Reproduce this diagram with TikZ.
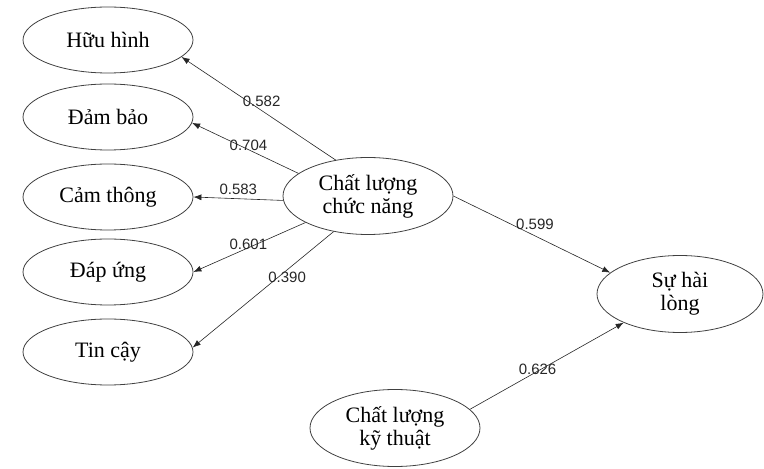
\documentclass[tikz,border=0pt]{standalone}
\usepackage{fontspec}
\setmainfont{Liberation Serif}
\newfontfamily\lblfont{Liberation Sans}
\usepackage{tikz}
\usetikzlibrary{arrows.meta}
\usetikzlibrary{shapes.geometric}

\begin{document}
\begin{tikzpicture}[x=1pt, y=1pt,
        factor/.style={draw=black!75, line width=0.8pt, ellipse, inner sep=0pt,
            minimum width=170pt, minimum height=66pt, align=center,
            font=\fontsize{22}{23}\selectfont},
        big/.style={minimum height=77pt},
        path/.style={-{Latex[length=8pt, width=6pt]}, line width=0.6pt, black!85},
        coef/.style={font=\lblfont\fontsize{15}{15}\selectfont, inner sep=0pt}]
        \useasboundingbox (0,0) rectangle (764,469);

        \draw (108, 429) node[factor] (huu) {Hữu hình};
        \draw (108, 352) node[factor] (dam) {Đảm bảo};
        \draw (108, 272) node[factor] (cam) {Cảm thông};
        \draw (108, 197) node[factor] (dap) {Đáp ứng};
        \draw (108, 117) node[factor] (tin) {Tin cậy};

        \draw (368, 273) node[factor, big] (chuc) {Chất lượng\\chức năng};
        \draw (680, 175) node[factor, big, minimum width=166pt] (hai) {Sự hài\\lòng};
        \draw (395, 41) node[factor, big] (ky) {Chất lượng\\kỹ thuật};

        \draw[path] (chuc.132) -- node[coef, pos=0.48, yshift=9] {0.582} (huu.-13);
        \draw[path] (chuc.162) -- node[coef, pos=0.47, yshift=4] {0.704} (dam.-4);
        \draw[path] (chuc.183) -- node[coef, pos=0.5, yshift=9] {0.583} (cam.east);
        \draw[path] (chuc.203) -- node[coef, pos=0.51, yshift=3] {0.601} (dap.east);
        \draw[path] (chuc.226) -- node[coef, pos=0.33, yshift=-7] {0.390} (tin.3);

        \draw[path] (chuc.east) -- node[coef, pos=0.52, yshift=12] {0.599} (hai.163);
        \draw[path] (ky.14) -- node[coef, pos=0.44, yshift=2] {0.626} (hai.207);
    \end{tikzpicture}
\end{document}
